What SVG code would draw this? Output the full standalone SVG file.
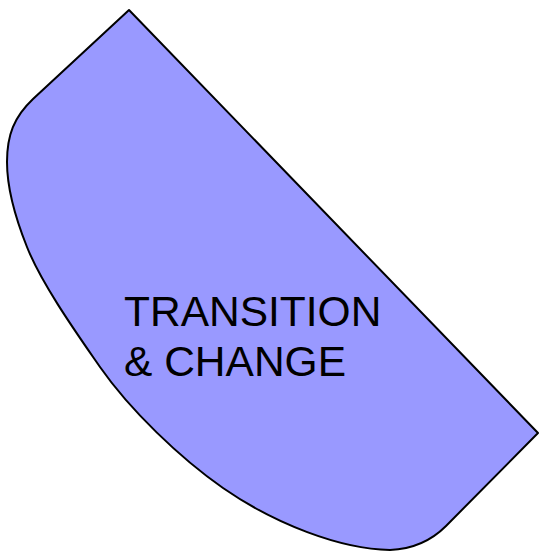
<svg xmlns="http://www.w3.org/2000/svg" width="539" height="551" viewBox="0 0 539 551">
<style>
.shape{fill:#9999ff;stroke:#000;stroke-width:2;stroke-linejoin:round}
.lbl{font-family:"Liberation Sans",Arial,sans-serif;font-size:42.5px;fill:#000}
</style>
<g id="transition-change">
<path class="shape" d="M129,10 L538,433 L446,526 C432,540 415,549 390,550 C340,549 275,524 223,488 C180,458 130,410 100,367 C80,338 42,285 27,247 C17,222 7,190 7,162 C7,135 14,117 33,99 Z"/>
<text class="lbl" x="124" y="326">TRANSITION</text>
<text class="lbl" x="124" y="376">&amp; CHANGE</text>
</g>
</svg>
